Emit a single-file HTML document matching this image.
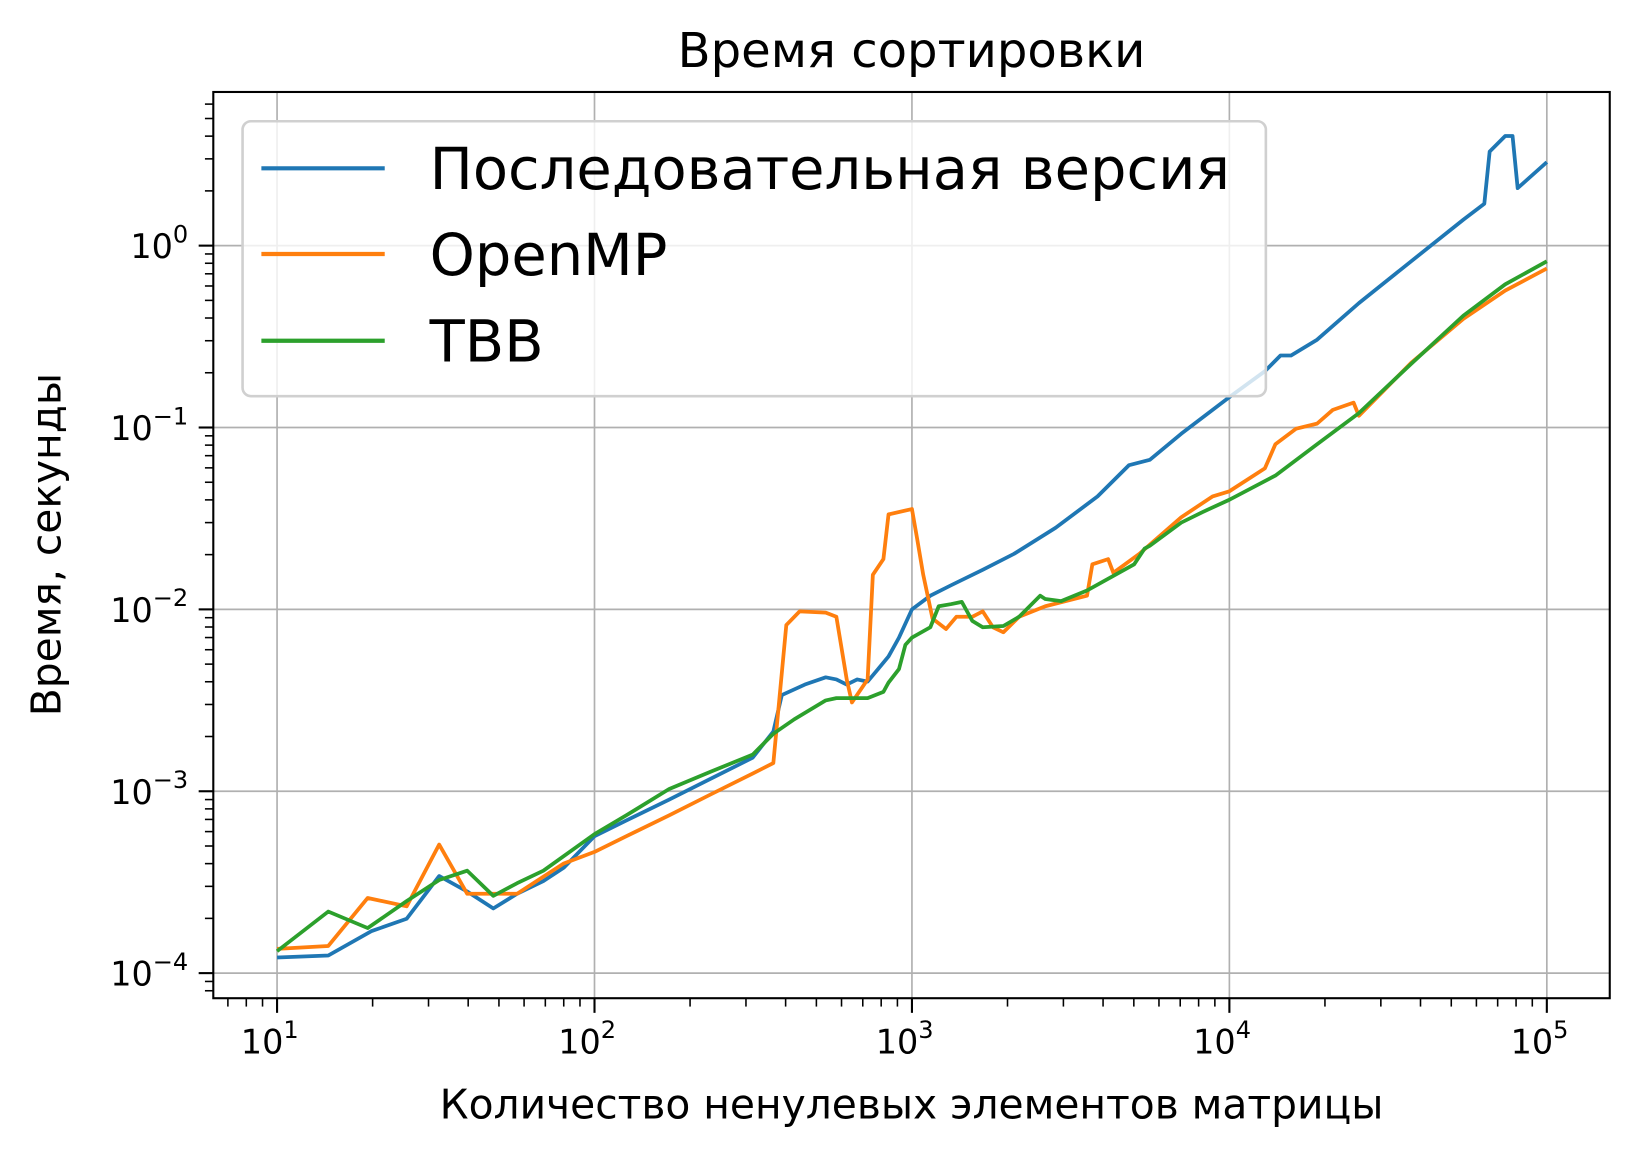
<!DOCTYPE html>
<html><head><meta charset="utf-8"><style>
html,body{margin:0;padding:0;background:#fff;}
svg{display:block;font-family:"DejaVu Sans","Liberation Sans",sans-serif;}
</style></head><body>
<svg id="chart" width="1637" height="1155" viewBox="0 0 1566 1105" xmlns="http://www.w3.org/2000/svg">
<rect width="1566" height="1105" fill="#fff"/>
<g id="grid"></g>
<g id="series"></g>
<g id="axes"></g>
<text x="872" y="64" font-size="46" text-anchor="middle">Время сортировки</text>
<text x="872" y="1070" font-size="39" text-anchor="middle">Количество ненулевых элементов матрицы</text>
<text transform="translate(58,521) rotate(-90)" font-size="39" text-anchor="middle">Время, секунды</text>
<g id="legend"></g>
</svg>
<script>
const seqX=[10,14.5,19.8,25.6,32.4,39.7,48,57,69,80,100,126,172,232,315,366,389,460,535,578,623,672,725,782,844,910,1000,1143,1331,1671,2096,2837,3843,4828,5614,7051,10000,12940,14490,15640,18890,25590,37390,54590,63530,66040,73960,78010,80940,100000];
const seqY=[1.22e-4,1.25e-4,1.70e-4,1.99e-4,3.42e-4,2.81e-4,2.27e-4,2.73e-4,3.21e-4,3.80e-4,5.66e-4,6.91e-4,9.0e-4,1.17e-3,1.53e-3,2.13e-3,3.38e-3,3.86e-3,4.23e-3,4.12e-3,3.86e-3,4.12e-3,4.01e-3,4.70e-3,5.51e-3,7.0e-3,0.01,0.0119,0.0136,0.0165,0.0202,0.0281,0.0418,0.0621,0.0664,0.0924,0.147,0.204,0.249,0.249,0.304,0.483,0.82,1.39,1.70,3.29,4.01,4.01,2.07,2.88];
const ompX=[10,14.5,19.3,25.6,32.4,39.7,48,57,80,100,126,172,232,315,366,402,443,535,578,623,647,725,753,813,844,1000,1038,1085,1161,1280,1380,1549,1671,1800,1941,2176,2632,3562,3700,4150,4310,5200,7051,8850,10000,12940,13960,16230,18890,21180,24610,25590,37390,54590,73960,100000];
const ompY=[1.36e-4,1.41e-4,2.59e-4,2.33e-4,5.09e-4,2.73e-4,2.73e-4,2.73e-4,4.01e-4,4.64e-4,5.66e-4,7.38e-4,9.6e-4,1.25e-3,1.43e-3,8.2e-3,9.75e-3,9.6e-3,9.1e-3,4.12e-3,3.08e-3,4.12e-3,0.0155,0.0189,0.0333,0.0356,0.0246,0.0155,8.9e-3,7.8e-3,9.1e-3,9.1e-3,9.75e-3,7.98e-3,7.48e-3,9.1e-3,0.0104,0.0119,0.0177,0.0189,0.0159,0.0202,0.0321,0.0418,0.0446,0.0597,0.0809,0.0986,0.105,0.125,0.137,0.116,0.227,0.396,0.566,0.748];
const tbbX=[10,14.5,19.3,25.6,32.4,39.7,48,57,69,100,126,172,232,315,366,426,535,578,725,813,844,910,953,1000,1143,1214,1331,1436,1549,1671,1941,2176,2536,2632,2951,3562,5012,5405,5614,7051,8204,10000,13960,18890,25590,37390,54590,73960,100000];
const tbbY=[1.32e-4,2.18e-4,1.77e-4,2.49e-4,3.25e-4,3.66e-4,2.66e-4,3.12e-4,3.66e-4,5.81e-4,7.38e-4,1.03e-3,1.28e-3,1.59e-3,2.07e-3,2.49e-3,3.16e-3,3.25e-3,3.25e-3,3.52e-3,3.96e-3,4.70e-3,6.38e-3,7.0e-3,7.98e-3,0.0104,0.0107,0.011,8.65e-3,7.98e-3,8.1e-3,9.1e-3,0.0119,0.0114,0.0111,0.0127,0.0177,0.0216,0.0224,0.030,0.0342,0.0401,0.0544,0.0809,0.120,0.224,0.412,0.613,0.82];
const xTickExp=[1,2,3,4,5];
const yTickExp=[-4,-3,-2,-1,0];
const legendLabels=["Последовательная версия","OpenMP","TBB"];

const NS="http://www.w3.org/2000/svg";
const L=204,R=1540,T=88,B=955;
const X0=265,XD=303.7,Y0=235,YD=174;
function xs(v){return X0+(Math.log10(v)-1)*XD;}
function ys(v){return Y0-Math.log10(v)*YD;}
function mk(tag,attrs,parent){const e=document.createElementNS(NS,tag);for(const k in attrs)e.setAttribute(k,attrs[k]);parent.appendChild(e);return e;}
const grid=document.getElementById('grid'),axes=document.getElementById('axes'),series=document.getElementById('series'),legend=document.getElementById('legend');

xTickExp.forEach(e=>{const x=xs(Math.pow(10,e));
 const g=mk('line',{x1:x,x2:x,y1:T,y2:B,stroke:'#b0b0b0','stroke-width':1.6},grid);
 
 const t=mk('line',{x1:x,x2:x,y1:B,y2:B+14,stroke:'#000','stroke-width':2},axes);
 
 const tx=mk('text',{x:x-7,y:B+53,'font-size':32,'text-anchor':'middle'},axes);
 
 tx.textContent='10';const sp=mk('tspan',{dy:-15,'font-size':23},tx);sp.textContent=String(e);
});
yTickExp.forEach(e=>{const y=ys(Math.pow(10,e));
 const g=mk('line',{x1:L,x2:R,y1:y,y2:y,stroke:'#b0b0b0','stroke-width':1.6},grid);
 
 const t=mk('line',{x1:L-14,x2:L,y1:y,y2:y,stroke:'#000','stroke-width':2},axes);
 
 const tx=mk('text',{x:L-24,y:y+12,'font-size':32,'text-anchor':'end'},axes);
 
 tx.textContent='10';const sp=mk('tspan',{dy:-15,'font-size':23},tx);sp.textContent=(e<0?'\u2212'+(-e):String(e));
});
for(let e=0;e<=5;e++)for(let m=2;m<=9;m++){const x=xs(m*Math.pow(10,e));if(x<L||x>R)continue;
 const t=mk('line',{x1:x,x2:x,y1:B,y2:B+8,stroke:'#000','stroke-width':1.5},axes);
 }
for(let e=-5;e<=1;e++)for(let m=2;m<=9;m++){const y=ys(m*Math.pow(10,e));if(y<T||y>B)continue;
 const t=mk('line',{x1:L-8,x2:L,y1:y,y2:y,stroke:'#000','stroke-width':1.5},axes);
 }

function line(xa,ya,color,name){const d=xa.map((v,i)=>(i?'L':'M')+xs(v).toFixed(1)+','+ys(ya[i]).toFixed(1)).join('');
 const p=mk('path',{d:d,fill:'none',stroke:color,'stroke-width':3.6,'stroke-linejoin':'round'},series);
 }
line(seqX,seqY,'#1f77b4','sequential-line');
line(ompX,ompY,'#ff7f0e','openmp-line');
line(tbbX,tbbY,'#2ca02c','tbb-line');

const frame=mk('rect',{x:L,y:T,width:R-L,height:B-T,fill:'none',stroke:'#000','stroke-width':2},axes);


const lb=mk('rect',{x:232,y:116,width:979,height:263,rx:8,fill:'#fff','fill-opacity':0.8,stroke:'#d0d0d0','stroke-width':2.5},legend);

const cols=['#1f77b4','#ff7f0e','#2ca02c'],ly=[161,243,326];
legendLabels.forEach((s,i)=>{
 const l=mk('line',{x1:250,x2:368,y1:ly[i],y2:ly[i],stroke:cols[i],'stroke-width':4},legend);
 
 const t=mk('text',{x:411,y:ly[i]+20,'font-size':55},legend);
 
 t.textContent=s;});
</script>
</body></html>
